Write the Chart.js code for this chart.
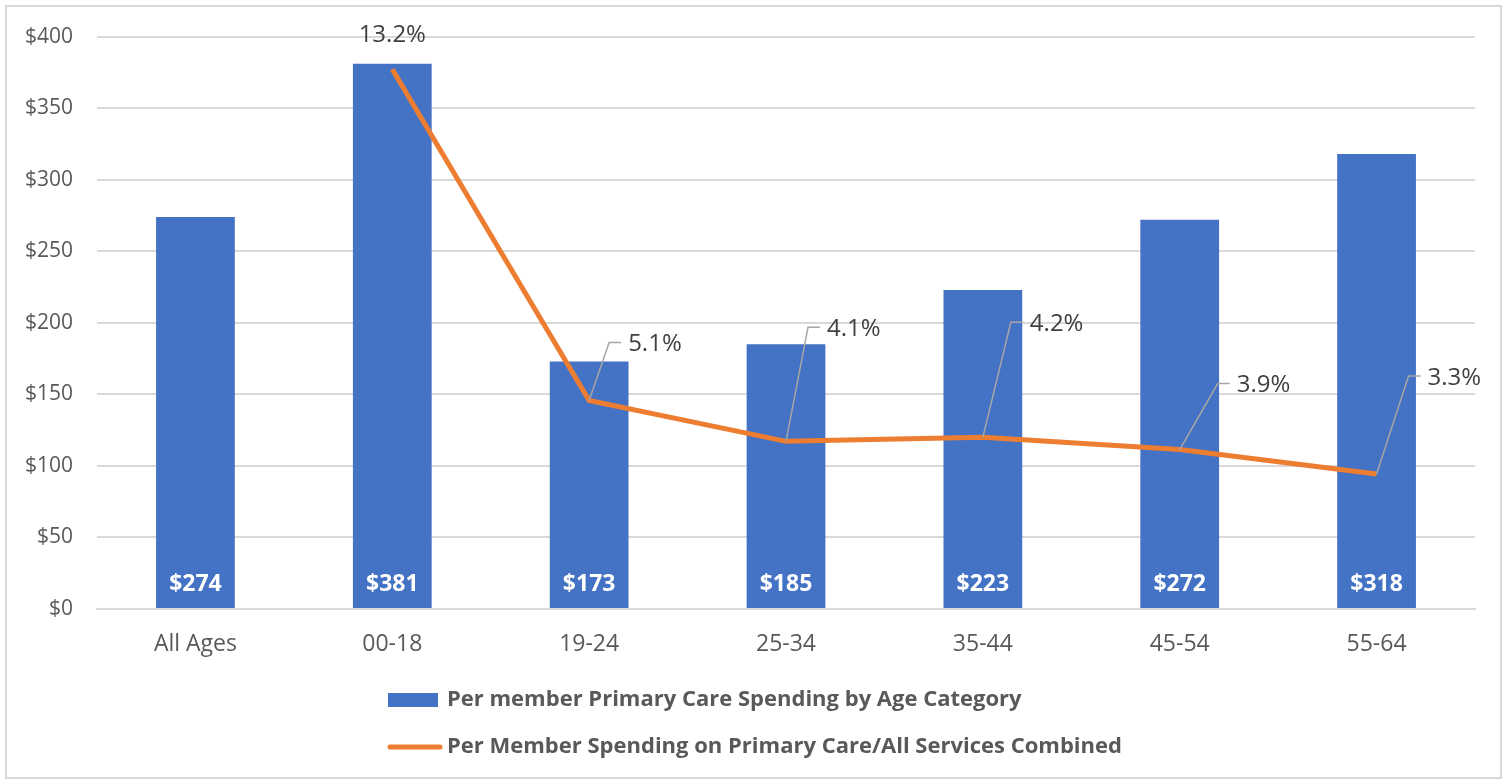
<!DOCTYPE html>
<html>
<head>
<meta charset="utf-8">
<script src="https://cdn.jsdelivr.net/npm/chart.js@4.4.1/dist/chart.umd.min.js"></script>
<style>
  html, body { margin: 0; padding: 0; background: #ffffff; }
  #wrap { width: 1506px; height: 782px; position: relative; }
</style>
</head>
<body>
<div id="wrap"><canvas id="c" width="1506" height="782"></canvas></div>
<script>
// ---- Data ----
const categories = ['All Ages', '00-18', '19-24', '25-34', '35-44', '45-54', '55-64'];
const spendingValues = [274, 381, 173, 185, 223, 272, 318];
const shareValues = [null, 13.2, 5.1, 4.1, 4.2, 3.9, 3.3];
const barLabel = 'Per member Primary Care Spending by Age Category';
const lineLabel = 'Per Member Spending on Primary Care/All Services Combined';

// ---- Styling / label layout (not data) ----
const FONT = '"Open Sans", "Noto Sans", sans-serif';
const GRAY = '#595959';
const BLUE = '#4472C4';
const ORANGE = '#ED7D31';
// elbow offsets for the line's data labels, relative to each point (null = centered above)
const labelLayout = [null, {above: 34}, {dx: 20, dy: -58}, {dx: 22, dy: -114}, {dx: 28, dy: -115}, {dx: 38, dy: -66}, {dx: 32, dy: -98}];

const customDraw = {
  id: 'customDraw',
  beforeDraw(chart) {
    const ctx = chart.ctx;
    ctx.save();
    ctx.fillStyle = '#ffffff';
    ctx.fillRect(0, 0, chart.width, chart.height);
    ctx.restore();
  },
  afterDatasetsDraw(chart) {
    const ctx = chart.ctx;
    ctx.save();
    // bar value labels
    const barMeta = chart.getDatasetMeta(1);
    ctx.font = 'bold 23px ' + FONT;
    ctx.fillStyle = '#ffffff';
    ctx.textAlign = 'center';
    ctx.textBaseline = 'middle';
    barMeta.data.forEach((el, i) => {
      ctx.fillText('$' + spendingValues[i], el.x, el.base - 24);
    });
    // line labels with leader lines
    const lineMeta = chart.getDatasetMeta(0);
    ctx.font = '24px ' + FONT;
    ctx.fillStyle = '#404040';
    lineMeta.data.forEach((pt, i) => {
      const v = shareValues[i];
      if (v === null || v === undefined) return;
      const lay = labelLayout[i];
      const txt = v.toFixed(1) + '%';
      if (lay && lay.above !== undefined) {
        ctx.textAlign = 'center';
        ctx.textBaseline = 'middle';
        ctx.fillText(txt, pt.x, pt.y - lay.above);
        return;
      }
      const ex = pt.x + lay.dx, ey = pt.y + lay.dy;
      ctx.strokeStyle = '#a6a6a6';
      ctx.lineWidth = 1.5;
      ctx.beginPath();
      ctx.moveTo(pt.x, pt.y);
      ctx.lineTo(ex, ey);
      ctx.lineTo(ex + 12, ey);
      ctx.stroke();
      ctx.textAlign = 'left';
      ctx.textBaseline = 'middle';
      ctx.fillText(txt, ex + 19, ey + 2);
    });
    ctx.restore();
  },
  afterDraw(chart) {
    const ctx = chart.ctx;
    ctx.save();
    // custom legend
    const lx = 388, tx = 447;
    ctx.font = 'bold 22px ' + FONT;
    ctx.textAlign = 'left';
    ctx.textBaseline = 'middle';
    ctx.fillStyle = BLUE;
    ctx.fillRect(lx, 693, 50, 14);
    ctx.fillStyle = GRAY;
    ctx.fillText(chart.data.datasets[1].label, tx, 700);
    ctx.strokeStyle = ORANGE;
    ctx.lineWidth = 5;
    ctx.lineCap = 'round';
    ctx.beginPath();
    ctx.moveTo(lx + 2, 747);
    ctx.lineTo(lx + 52, 747);
    ctx.stroke();
    ctx.fillText(chart.data.datasets[0].label, tx, 747);
    // outer border
    ctx.strokeStyle = '#d9d9d9';
    ctx.lineWidth = 2;
    ctx.strokeRect(6, 6, 1495, 772);
    ctx.restore();
  }
};

new Chart(document.getElementById('c'), {
  data: {
    labels: categories,
    datasets: [
      {
        type: 'line',
        label: lineLabel,
        data: shareValues,
        yAxisID: 'y1',
        borderColor: ORANGE,
        backgroundColor: ORANGE,
        borderWidth: 5,
        pointRadius: 0,
        tension: 0,
        spanGaps: false,
        order: 0
      },
      {
        type: 'bar',
        label: barLabel,
        data: spendingValues,
        yAxisID: 'y',
        backgroundColor: BLUE,
        borderWidth: 0,
        categoryPercentage: 1.0,
        barPercentage: 0.4,
        order: 1
      }
    ]
  },
  options: {
    responsive: false,
    animation: false,
    devicePixelRatio: 1,
    layout: { padding: { left: 0, right: 31, top: 35, bottom: 113 } },
    plugins: {
      legend: { display: false },
      tooltip: { enabled: false }
    },
    scales: {
      x: {
        grid: { display: false, drawTicks: false },
        border: { display: true, color: '#d9d9d9', width: 2 },
        ticks: { color: GRAY, font: { family: FONT, size: 23 }, padding: 22 },
        afterFit(scale) { scale.height = 60; }
      },
      y: {
        min: 0, max: 400,
        ticks: {
          stepSize: 50,
          color: GRAY,
          font: { family: FONT, size: 21 },
          padding: 24,
          callback: v => '$' + v
        },
        grid: { color: '#d9d9d9', lineWidth: 2, drawTicks: false },
        border: { display: false },
        afterFit(scale) { scale.width = 97; }
      },
      y1: {
        display: false,
        min: 0, max: 14,
        position: 'right',
        grid: { display: false }
      }
    }
  },
  plugins: [customDraw]
});
</script>
</body>
</html>
